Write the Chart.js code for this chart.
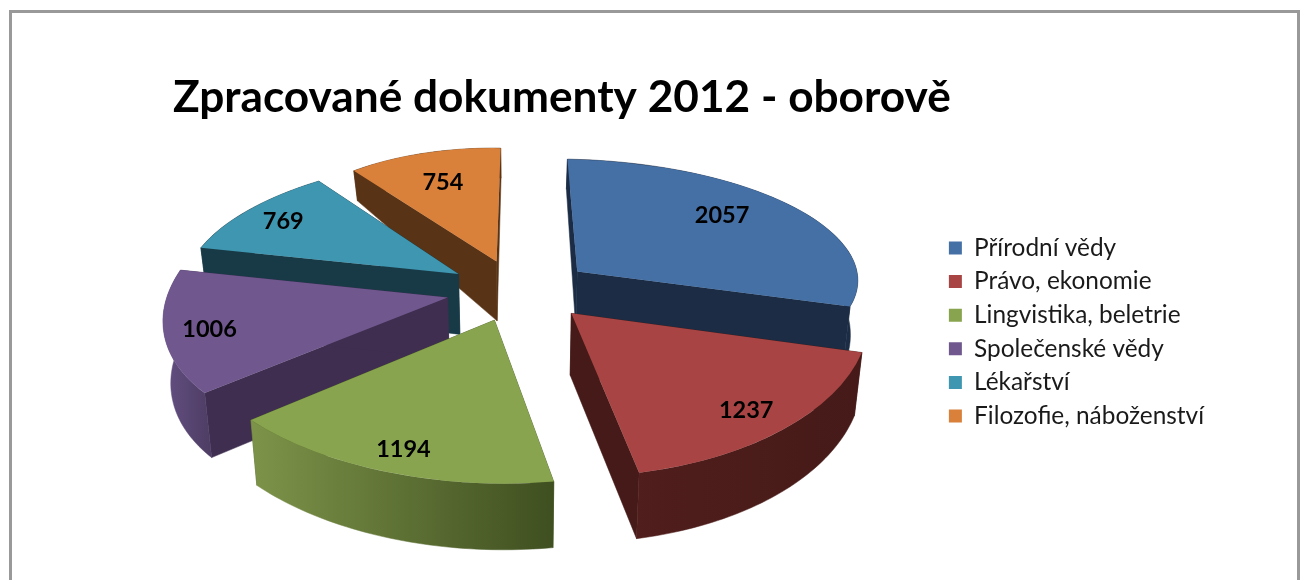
<!DOCTYPE html>
<html>
<head>
<meta charset="utf-8">
<title>Zpracované dokumenty 2012 - oborově</title>
<script src="https://cdn.jsdelivr.net/npm/chart.js@4"></script>
<style>
  html, body { margin: 0; background: #fff; overflow: hidden; }
  #frame { position: absolute; left: 9px; top: 10px; width: 1285px; height: 620px; border: 3px solid #999; }
  #pie { position: absolute; left: 0; top: 0; filter: blur(0.6px); }
</style>
</head>
<body>
<div id="frame"></div>
<canvas id="pie" width="1307" height="580"></canvas>
<script>
// Data
const categories = ['Přírodní vědy', 'Právo, ekonomie', 'Lingvistika, beletrie', 'Společenské vědy', 'Lékařství', 'Filozofie, náboženství'];
const documentCounts = [2057, 1237, 1194, 1006, 769, 754];

// Colours of top face, cut faces and outer rim (left and right end)
const topColors = ['#4470a6', '#a84544', '#88a44e', '#70588f', '#3f96b0', '#d9803b'];
const cutColors = ['#1b2c44', '#451a18', '#4a5c28', '#3f2e50', '#183a47', '#583315'];
const rimLeft = ['#1b2c44', '#501e1c', '#7d9349', '#645083', '#183a47', '#583315'];
const rimRight = ['#1b2c44', '#451a18', '#3f4f20', '#4d3c63', '#183a47', '#583315'];
const labelRadius = [0.746, 0.83, 0.85, 0.84, 0.83, 0.73];
const labelFraction = [0.434, 0.5, 0.5, 0.5, 0.5, 0.5];
const sliceRadius = [0.97, 1, 1, 1, 1, 1];
const drawOrder = [5, 4, 0, 3, 1, 2];

// Fake 3D camera: unit pie coordinates (u right, v toward viewer) to screen pixels
const view = { cx: 520, cy: 290, rx: 285, ry: 135, px: 0.22, py: 0.13, explodeX: 0.26, explodeY: 0.23 };

function project(u, v, z) {
  const sx = (v < 0 ? 1 / (1 - view.px * v) : 1 + 0.12 * v) * (1 - 0.022 * z);
  const sy = 1 / (1 - view.py * v);
  return [view.cx + view.rx * u * sx, view.cy + view.ry * v * sy + z * depthAt(v)];
}

function depthAt(v) {
  return v < -0.2 ? 60 - 30 * Math.min(1, (-v - 0.2) / 0.8) : 60 + 6 * Math.min(1, (v + 0.2) / 1.2);
}

// Affine matrix mapping arc pixels to the projected wedge, exact at apex and both ends
function wedgeMatrix(arc, i, z) {
  const { x, y, startAngle, endAngle, outerRadius: r } = arc.getProps(['x', 'y', 'startAngle', 'endAngle', 'outerRadius']);
  const mid = (startAngle + endAngle) / 2;
  const ex = Math.cos(mid) * view.explodeX;
  const ey = Math.sin(mid) * view.explodeY;
  const k = sliceRadius[i];
  const a = project(ex, ey, z);
  const b = project(k * Math.cos(startAngle) + ex, k * Math.sin(startAngle) + ey, z);
  const c = project(k * Math.cos(endAngle) + ex, k * Math.sin(endAngle) + ey, z);
  const b0 = [Math.cos(startAngle) * r, Math.sin(startAngle) * r];
  const c0 = [Math.cos(endAngle) * r, Math.sin(endAngle) * r];
  const det = b0[0] * c0[1] - b0[1] * c0[0];
  const m = {
    a: ((b[0] - a[0]) * c0[1] - (c[0] - a[0]) * b0[1]) / det,
    c: ((c[0] - a[0]) * b0[0] - (b[0] - a[0]) * c0[0]) / det,
    b: ((b[1] - a[1]) * c0[1] - (c[1] - a[1]) * b0[1]) / det,
    d: ((c[1] - a[1]) * b0[0] - (b[1] - a[1]) * c0[0]) / det
  };
  m.e = a[0] - m.a * x - m.c * y;
  m.f = a[1] - m.b * x - m.d * y;
  m.map = (px, py) => [m.a * px + m.c * py + m.e, m.b * px + m.d * py + m.f];
  return m;
}

function fillPoly(ctx, points, color) {
  ctx.beginPath();
  points.forEach((p, i) => (i ? ctx.lineTo(p[0], p[1]) : ctx.moveTo(p[0], p[1])));
  ctx.closePath();
  ctx.fillStyle = color;
  ctx.fill();
  ctx.strokeStyle = color;
  ctx.lineWidth = 0.5;
  ctx.stroke();
}

const pie3d = {
  id: 'pie3d',
  beforeDatasetsDraw(chart) {
    const ctx = chart.ctx;
    const arcs = chart.getDatasetMeta(0).data;
    drawOrder.forEach(i => {
      const arc = arcs[i];
      const { x, y, startAngle, endAngle, outerRadius: r } = arc.getProps(['x', 'y', 'startAngle', 'endAngle', 'outerRadius']);
      const top = wedgeMatrix(arc, i, 0);
      const bottom = wedgeMatrix(arc, i, 1);

      // cut faces
      [startAngle, endAngle].forEach(t => {
        const px = x + Math.cos(t) * r, py = y + Math.sin(t) * r;
        fillPoly(ctx, [top.map(x, y), top.map(px, py), bottom.map(px, py), bottom.map(x, y)], cutColors[i]);
      });

      // outer rim
      const upper = [], lower = [];
      for (let s = 0; s <= 48; s++) {
        const t = startAngle + (endAngle - startAngle) * s / 48;
        upper.push(top.map(x + Math.cos(t) * r, y + Math.sin(t) * r));
        lower.unshift(bottom.map(x + Math.cos(t) * r, y + Math.sin(t) * r));
      }
      const rim = upper.concat(lower);
      const xs = rim.map(p => p[0]);
      const grad = ctx.createLinearGradient(Math.min(...xs), 0, Math.max(...xs), 0);
      grad.addColorStop(0, rimLeft[i]);
      grad.addColorStop(1, rimRight[i]);
      fillPoly(ctx, rim, grad);

      // top face, drawn by the library's arc element
      ctx.save();
      ctx.transform(top.a, top.b, top.c, top.d, top.e, top.f);
      arc.draw(ctx);
      ctx.restore();
    });
    return false;
  },
  afterDraw(chart) {
    const ctx = chart.ctx;
    ctx.save();
    ctx.font = 'bold 23.5px Lato';
    ctx.fillStyle = '#000';
    ctx.textAlign = 'center';
    ctx.textBaseline = 'middle';
    chart.getDatasetMeta(0).data.forEach((arc, i) => {
      const { x, y, startAngle, endAngle, outerRadius: r } = arc.getProps(['x', 'y', 'startAngle', 'endAngle', 'outerRadius']);
      const t = startAngle + (endAngle - startAngle) * labelFraction[i];
      const p = wedgeMatrix(arc, i, 0).map(x + Math.cos(t) * r * labelRadius[i], y + Math.sin(t) * r * labelRadius[i]);
      ctx.fillText(String(documentCounts[i]), p[0], p[1]);
    });
    ctx.restore();
  }
};

new Chart(document.getElementById('pie').getContext('2d'), {
  type: 'pie',
  data: {
    labels: categories,
    datasets: [{ data: documentCounts, backgroundColor: topColors, borderWidth: 0 }]
  },
  options: {
    responsive: false,
    animation: false,
    layout: { padding: { left: 173, top: 71, right: 93, bottom: 40 } },
    plugins: {
      title: {
        display: true,
        text: 'Zpracované dokumenty 2012 - oborově',
        align: 'start',
        color: '#000',
        font: { family: 'Lato', size: 44.2, weight: 'bold' },
        padding: 0
      },
      legend: {
        position: 'right',
        fullSize: false,
        labels: {
          color: '#1a1a1a',
          boxWidth: 13,
          boxHeight: 13,
          padding: 9.2,
          font: { family: 'Lato', size: 24.4 }
        }
      },
      tooltip: { enabled: false }
    }
  },
  plugins: [pie3d]
});
</script>
</body>
</html>
